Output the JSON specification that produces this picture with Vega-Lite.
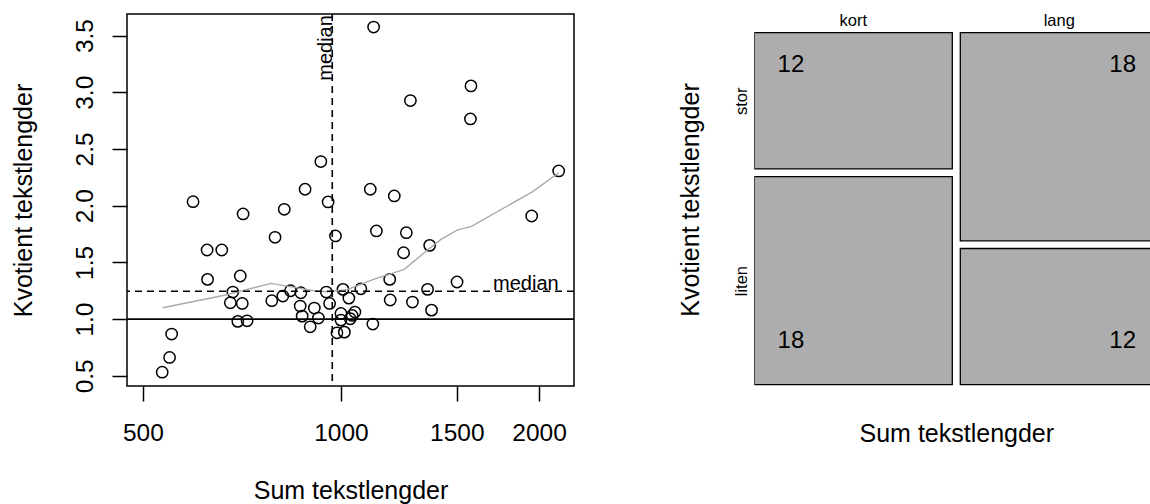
{
  "$schema": "https://vega.github.io/schema/vega-lite/v6.json",
  "padding": {"left": 10, "top": 12, "right": 0, "bottom": 0},
  "background": "white",
  "bounds": "flush",
  "spacing": 180.3,
  "config": {
    "font": "Liberation Sans",
    "axis": {"labelColor": "black", "titleColor": "black", "tickColor": "black", "domainColor": "black", "titleFontWeight": "normal", "grid": false}
  },
  "datasets": {
    "points": [
      {"sum_len": 1121, "ratio": 3.575}, {"sum_len": 1576, "ratio": 3.056}, {"sum_len": 1275, "ratio": 2.927}, {"sum_len": 1573, "ratio": 2.765},
      {"sum_len": 932, "ratio": 2.389}, {"sum_len": 2142, "ratio": 2.306}, {"sum_len": 596, "ratio": 2.035}, {"sum_len": 882, "ratio": 2.145},
      {"sum_len": 1108, "ratio": 2.145}, {"sum_len": 1205, "ratio": 2.086}, {"sum_len": 956, "ratio": 2.033}, {"sum_len": 710, "ratio": 1.927},
      {"sum_len": 820, "ratio": 1.968}, {"sum_len": 1949, "ratio": 1.909}, {"sum_len": 794, "ratio": 1.721}, {"sum_len": 981, "ratio": 1.733},
      {"sum_len": 1132, "ratio": 1.777}, {"sum_len": 1257, "ratio": 1.762}, {"sum_len": 626, "ratio": 1.609}, {"sum_len": 659, "ratio": 1.609},
      {"sum_len": 1245, "ratio": 1.585}, {"sum_len": 1364, "ratio": 1.65}, {"sum_len": 627, "ratio": 1.35}, {"sum_len": 703, "ratio": 1.38},
      {"sum_len": 1186, "ratio": 1.35}, {"sum_len": 1501, "ratio": 1.327}, {"sum_len": 685, "ratio": 1.238}, {"sum_len": 838, "ratio": 1.25},
      {"sum_len": 869, "ratio": 1.232}, {"sum_len": 950, "ratio": 1.238}, {"sum_len": 1007, "ratio": 1.262}, {"sum_len": 1072, "ratio": 1.267},
      {"sum_len": 1354, "ratio": 1.262}, {"sum_len": 816, "ratio": 1.203}, {"sum_len": 1028, "ratio": 1.185}, {"sum_len": 785, "ratio": 1.162},
      {"sum_len": 679, "ratio": 1.144}, {"sum_len": 708, "ratio": 1.138}, {"sum_len": 867, "ratio": 1.115}, {"sum_len": 911, "ratio": 1.097},
      {"sum_len": 961, "ratio": 1.138}, {"sum_len": 1188, "ratio": 1.168}, {"sum_len": 1284, "ratio": 1.15}, {"sum_len": 1373, "ratio": 1.079},
      {"sum_len": 873, "ratio": 1.026}, {"sum_len": 924, "ratio": 1.009}, {"sum_len": 1000, "ratio": 1.05}, {"sum_len": 1050, "ratio": 1.062},
      {"sum_len": 1040, "ratio": 1.032}, {"sum_len": 1033, "ratio": 1.003}, {"sum_len": 1000, "ratio": 0.991}, {"sum_len": 697, "ratio": 0.98},
      {"sum_len": 720, "ratio": 0.985}, {"sum_len": 898, "ratio": 0.932}, {"sum_len": 1118, "ratio": 0.956}, {"sum_len": 986, "ratio": 0.879},
      {"sum_len": 1012, "ratio": 0.885}, {"sum_len": 553, "ratio": 0.868}, {"sum_len": 549, "ratio": 0.662}, {"sum_len": 535, "ratio": 0.532}
    ],
    "fit": [
      {"sum_len": 536, "ratio": 1.1}, {"sum_len": 665, "ratio": 1.21}, {"sum_len": 783, "ratio": 1.315}, {"sum_len": 916, "ratio": 1.247},
      {"sum_len": 954, "ratio": 1.241}, {"sum_len": 1024, "ratio": 1.262}, {"sum_len": 1124, "ratio": 1.353}, {"sum_len": 1248, "ratio": 1.439},
      {"sum_len": 1354, "ratio": 1.609}, {"sum_len": 1419, "ratio": 1.703}, {"sum_len": 1504, "ratio": 1.786}, {"sum_len": 1576, "ratio": 1.815},
      {"sum_len": 1956, "ratio": 2.124}, {"sum_len": 2142, "ratio": 2.29}
    ],
    "cells": [
      {"col": "kort", "row": "stor", "n": 12}, {"col": "kort", "row": "liten", "n": 18},
      {"col": "lang", "row": "stor", "n": 18}, {"col": "lang", "row": "liten", "n": 12}
    ]
  },
  "hconcat": [
    {
      "width": 447,
      "height": 372,
      "view": {"stroke": "black", "strokeWidth": 1.5},
      "layer": [
        {
          "data": {"name": "points"},
          "mark": {"type": "point", "shape": "circle", "filled": false, "color": "black", "size": 128, "strokeWidth": 1.5, "opacity": 1},
          "encoding": {
            "x": {"field": "sum_len", "type": "quantitative",
              "scale": {"type": "log", "domain": [473, 2260], "nice": false},
              "axis": {"title": "Sum tekstlengder", "values": [500, 1000, 1500, 2000], "format": "d", "labelFontSize": 24.5, "titleFontSize": 25,
                "tickSize": 15, "tickWidth": 1.5, "domain": false, "labelPadding": 20, "labelFlush": false, "labelOverlap": false,
                "titleX": 223.5, "titleY": 112, "titleBaseline": "alphabetic", "titleAlign": "center"}},
            "y": {"field": "ratio", "type": "quantitative",
              "scale": {"domain": [0.41, 3.69], "nice": false, "zero": false},
              "axis": {"title": "Kvotient tekstlengder", "values": [0.5, 1, 1.5, 2, 2.5, 3, 3.5], "format": ".1f", "labelAngle": 270,
                "labelAlign": "center", "labelBaseline": "alphabetic", "labelPadding": 20, "tickSize": 15, "tickWidth": 1.5, "domain": false,
                "labelFontSize": 24.5, "titleFontSize": 25, "titleX": -96, "titleY": 186, "titleAngle": 270, "titleBaseline": "alphabetic",
                "titleAlign": "center", "labelFlush": false, "labelOverlap": false}}
          }
        },
        {
          "data": {"name": "fit"},
          "mark": {"type": "line", "color": "#aaaaaa", "strokeWidth": 1.4},
          "encoding": {
            "x": {"field": "sum_len", "type": "quantitative"},
            "y": {"field": "ratio", "type": "quantitative"}
          }
        },
        {
          "data": {"values": [{"ref": 1}]},
          "mark": {"type": "rule", "color": "black", "strokeWidth": 1.6},
          "encoding": {"y": {"field": "ref", "type": "quantitative"}}
        },
        {
          "data": {"values": [{"med": 1.245}]},
          "mark": {"type": "rule", "color": "black", "strokeWidth": 1.6, "strokeDash": [7, 5]},
          "encoding": {"y": {"field": "med", "type": "quantitative"}}
        },
        {
          "data": {"values": [{"med": 970}]},
          "mark": {"type": "rule", "color": "black", "strokeWidth": 1.6, "strokeDash": [7, 5]},
          "encoding": {"x": {"field": "med", "type": "quantitative"}}
        },
        {
          "data": {"values": [{"sx": 2142, "sy": 1.245, "label": "median"}]},
          "mark": {"type": "text", "fontSize": 20, "align": "right", "baseline": "alphabetic", "dy": -1, "color": "black"},
          "encoding": {
            "x": {"field": "sx", "type": "quantitative"},
            "y": {"field": "sy", "type": "quantitative"},
            "text": {"field": "label"}
          }
        },
        {
          "data": {"values": [{"sx": 970, "sy": 3.68, "label": "median"}]},
          "mark": {"type": "text", "fontSize": 20, "align": "right", "baseline": "alphabetic", "angle": 270, "color": "black"},
          "encoding": {
            "x": {"field": "sx", "type": "quantitative"},
            "y": {"field": "sy", "type": "quantitative"},
            "text": {"field": "label"}
          }
        }
      ]
    },
    {
      "width": 396,
      "height": 374.55,
      "view": {"stroke": null},
      "data": {"name": "cells"},
      "transform": [
        {"stack": "n", "groupby": ["col"], "sort": [{"field": "row", "order": "ascending"}], "as": ["y0", "y1"], "offset": "normalize"}
      ],
      "layer": [
        {
          "mark": {"type": "rect", "fill": "#adadad", "stroke": "black", "strokeWidth": 1.3, "yOffset": -3.85, "y2Offset": 3.85, "clip": true},
          "encoding": {
            "x": {"field": "col", "type": "nominal", "sort": ["kort", "lang"],
              "scale": {"domain": ["kort", "lang"], "range": [0, 404], "paddingInner": 0.0388, "paddingOuter": 0},
              "axis": {"orient": "top", "title": "Sum tekstlengder", "labelFontSize": 16.5, "ticks": false, "tickSize": 0, "domain": false,
                "labelPadding": -11, "labelBaseline": "alphabetic", "labelAngle": 0, "titleFontSize": 25, "titleX": 202, "titleY": 427.7,
                "titleBaseline": "alphabetic", "titleAlign": "center"}},
            "y": {"field": "y0", "type": "quantitative",
              "scale": {"domain": [0, 1], "range": [374.55, 14.85], "nice": false, "zero": false},
              "axis": {"title": "Kvotient tekstlengder", "values": [0.3, 0.8], "labelExpr": "datum.value > 0.5 ? 'stor' : 'liten'",
                "labelAngle": 270, "labelAlign": "center", "labelBaseline": "alphabetic", "labelPadding": 8.3, "ticks": false, "tickSize": 0,
                "domain": false, "labelFontSize": 16.5, "titleFontSize": 25, "titleX": -56.3, "titleY": 185.5, "titleAngle": 270,
                "titleBaseline": "alphabetic", "titleAlign": "center"}},
            "y2": {"field": "y1"}
          }
        },
        {
          "transform": [{"filter": "datum.row == 'stor' && datum.col == 'kort'"}],
          "mark": {"type": "text", "fontSize": 24, "baseline": "alphabetic", "align": "center", "dy": 42.85, "color": "black"},
          "encoding": {
            "x": {"field": "col", "type": "nominal", "bandPosition": 0.185},
            "y": {"field": "y1", "type": "quantitative"},
            "text": {"field": "n"}
          }
        },
        {
          "transform": [{"filter": "datum.row == 'stor' && datum.col == 'lang'"}],
          "mark": {"type": "text", "fontSize": 24, "baseline": "alphabetic", "align": "center", "dy": 42.85, "color": "black"},
          "encoding": {
            "x": {"field": "col", "type": "nominal", "bandPosition": 0.82},
            "y": {"field": "y1", "type": "quantitative"},
            "text": {"field": "n"}
          }
        },
        {
          "transform": [{"filter": "datum.row == 'liten' && datum.col == 'kort'"}],
          "mark": {"type": "text", "fontSize": 24, "baseline": "alphabetic", "align": "center", "dy": -40.85, "color": "black"},
          "encoding": {
            "x": {"field": "col", "type": "nominal", "bandPosition": 0.185},
            "y": {"field": "y0", "type": "quantitative"},
            "text": {"field": "n"}
          }
        },
        {
          "transform": [{"filter": "datum.row == 'liten' && datum.col == 'lang'"}],
          "mark": {"type": "text", "fontSize": 24, "baseline": "alphabetic", "align": "center", "dy": -40.85, "color": "black"},
          "encoding": {
            "x": {"field": "col", "type": "nominal", "bandPosition": 0.82},
            "y": {"field": "y0", "type": "quantitative"},
            "text": {"field": "n"}
          }
        }
      ]
    }
  ]
}
